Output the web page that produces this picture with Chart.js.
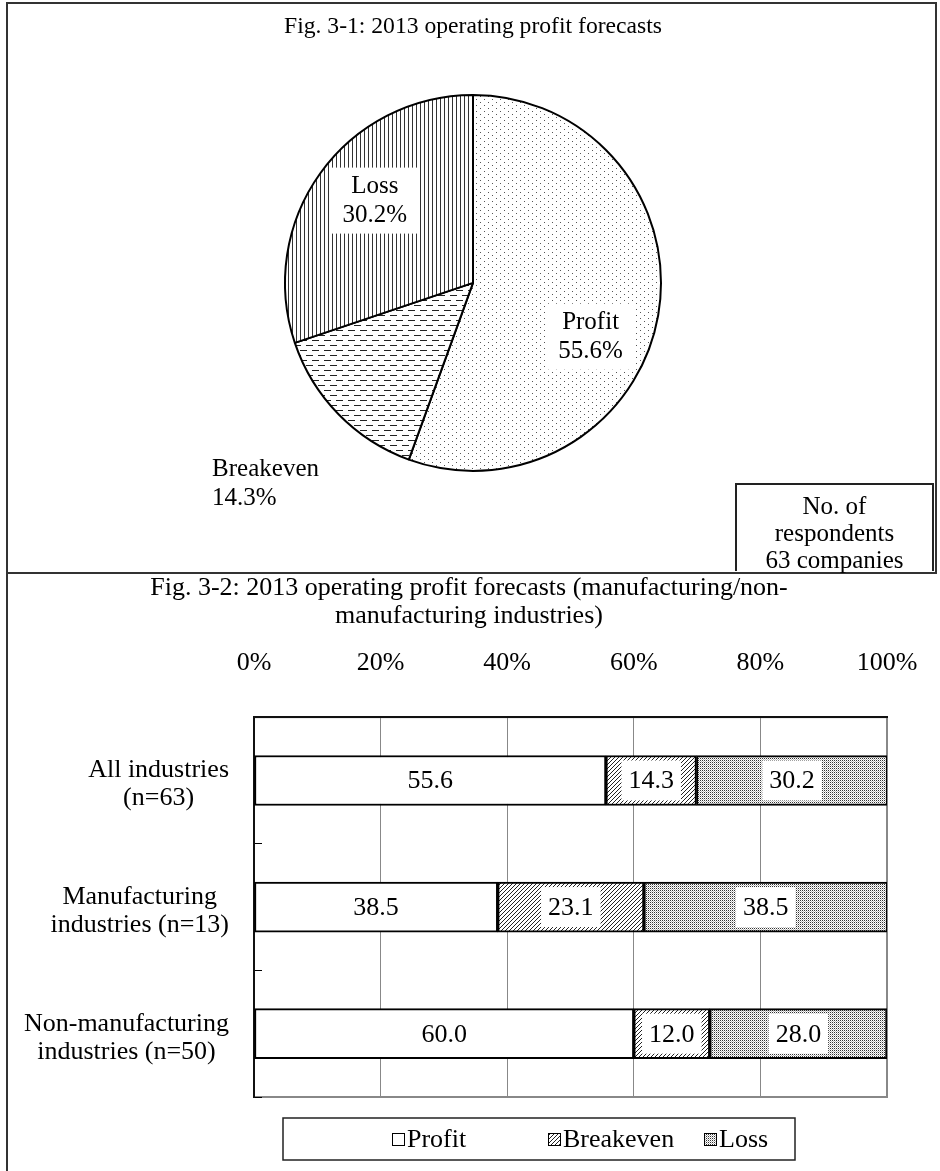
<!DOCTYPE html>
<html>
<head>
<meta charset="utf-8">
<script src="https://cdn.jsdelivr.net/npm/chart.js@4.4.0/dist/chart.umd.min.js"></script>
<style>
  body { margin: 0; background: #fff; width: 940px; height: 1171px; position: relative; overflow: hidden; font-family: 'Liberation Serif', 'Times New Roman', serif; }
  canvas { position: absolute; left: 0; }
  #pieChart { top: 0; }
  #barChart { top: 572px; }
  .line { position: absolute; background: #333; }
  #respBox { position: absolute; left: 735px; top: 483px; width: 199px; height: 88px; border: 2px solid #222; border-bottom: none;
             text-align: center; font-size: 25px; line-height: 27px; padding-top: 7px; box-sizing: border-box; color: #000; }
</style>
</head>
<body>
<canvas id="pieChart" width="940" height="572"></canvas>
<canvas id="barChart" width="940" height="599"></canvas>
<div class="line" style="left:6px;top:2px;width:931px;height:2px"></div>
<div class="line" style="left:6px;top:2px;width:2px;height:1169px"></div>
<div class="line" style="left:935px;top:2px;width:2px;height:571px"></div>
<div class="line" style="left:6px;top:572px;width:931px;height:2px"></div>
<div id="respBox">No. of<br>respondents<br>63 companies</div>
<script>
const serif = "'Liberation Serif', 'Times New Roman', serif";

// pie data
const pieLabels = ['Profit', 'Breakeven', 'Loss'];
const pieValues = [55.6, 14.3, 30.2];

// bar data
const barCategories = [['All industries', '(n=63)'], ['Manufacturing', 'industries (n=13)'], ['Non-manufacturing', 'industries (n=50)']];
const profitValues = [55.6, 38.5, 60.0];
const breakevenValues = [14.3, 23.1, 12.0];
const lossValues = [30.2, 38.5, 28.0];
const xTickValues = [0, 20, 40, 60, 80, 100];

// label placement for pie slices: fraction of radius, pixel nudge, alignment
const pieLabelRadius = [0.7, 1.55, 0.65];
const pieLabelNudge = [[-12, 31], [1, -3], [1, -11]];
const pieLabelAlign = ['center', 'left', 'center'];
const pieLabelBg = [true, false, true];

function makePattern(ctx, w, h, draw) {
    const c = document.createElement('canvas');
    c.width = w; c.height = h;
    const g = c.getContext('2d');
    g.fillStyle = '#fff';
    g.fillRect(0, 0, w, h);
    draw(g);
    return ctx.createPattern(c, 'repeat');
}

const pieCtx = document.getElementById('pieChart').getContext('2d');
const barCtx = document.getElementById('barChart').getContext('2d');

const piePatterns = [
    makePattern(pieCtx, 8, 6, g => { g.fillStyle = '#555'; g.fillRect(0, 0, 1, 1); g.fillRect(4, 3, 1, 1); }),
    makePattern(pieCtx, 12, 10, g => { g.fillStyle = '#222'; g.fillRect(0, 0, 7, 1); g.fillRect(6, 5, 6, 1); g.fillRect(0, 5, 1, 1); }),
    makePattern(pieCtx, 4, 1, g => { g.fillStyle = '#333'; g.fillRect(0, 0, 1, 1); })
];

const hatch = makePattern(barCtx, 4, 4, g => {
    g.fillStyle = '#222';
    g.fillRect(3, 0, 1, 1); g.fillRect(2, 1, 1, 1); g.fillRect(1, 2, 1, 1); g.fillRect(0, 3, 1, 1);
});
const dots = makePattern(barCtx, 2, 2, g => {
    g.fillStyle = '#333'; g.fillRect(0, 0, 1, 1);
    g.fillStyle = '#bbb'; g.fillRect(1, 1, 1, 1);
});

const pieLabelPlugin = {
    id: 'pieLabels',
    afterDatasetsDraw(chart) {
        const ctx = chart.ctx;
        const meta = chart.getDatasetMeta(0);
        const values = chart.data.datasets[0].data;
        ctx.save();
        ctx.font = '25px ' + serif;
        ctx.textBaseline = 'middle';
        meta.data.forEach((arc, i) => {
            const p = arc.getProps(['x', 'y', 'startAngle', 'endAngle', 'outerRadius'], true);
            const mid = (p.startAngle + p.endAngle) / 2;
            const r = p.outerRadius * pieLabelRadius[i];
            let cx = p.x + Math.cos(mid) * r + pieLabelNudge[i][0];
            const cy = p.y + Math.sin(mid) * r + pieLabelNudge[i][1];
            const lines = [chart.data.labels[i], values[i].toFixed(1) + '%'];
            const w = Math.max(...lines.map(t => ctx.measureText(t).width));
            if (pieLabelBg[i]) {
                ctx.fillStyle = '#fff';
                ctx.fillRect(cx - w / 2 - 12, cy - 33, w + 24, 66);
            }
            ctx.textAlign = pieLabelAlign[i];
            if (pieLabelAlign[i] === 'left') cx -= w / 2;
            ctx.fillStyle = '#000';
            ctx.fillText(lines[0], cx, cy - 14);
            ctx.fillText(lines[1], cx, cy + 15);
        });
        ctx.restore();
    }
};

new Chart(pieCtx, {
    type: 'pie',
    data: {
        labels: pieLabels,
        datasets: [{
            data: pieValues,
            backgroundColor: piePatterns,
            borderColor: '#000',
            borderWidth: 2,
        }],
    },
    options: {
        responsive: false,
        animation: false,
        layout: { padding: { left: 284, right: 278, top: 0, bottom: 100 } },
        plugins: {
            legend: { display: false },
            tooltip: { enabled: false },
            title: {
                display: true,
                text: 'Fig. 3-1: 2013 operating profit forecasts',
                color: '#000',
                font: { family: serif, size: 24, weight: 'normal', lineHeight: 1.2 },
                padding: { top: 12, bottom: 53 },
            },
        },
    },
    plugins: [pieLabelPlugin],
});

const barFont = 26;
const barExtras = {
    id: 'barExtras',
    beforeDraw(chart) {
        const { ctx, chartArea: a } = chart;
        ctx.save();
        ctx.strokeStyle = '#888';
        ctx.lineWidth = 2;
        ctx.strokeRect(a.left, a.top, a.right - a.left, a.bottom - a.top);
        ctx.restore();
    },
    afterDatasetsDraw(chart) {
        const ctx = chart.ctx;
        ctx.save();
        ctx.font = barFont + 'px ' + serif;
        ctx.textAlign = 'center';
        ctx.textBaseline = 'middle';
        chart.data.datasets.forEach((ds, di) => {
            chart.getDatasetMeta(di).data.forEach((bar, i) => {
                const p = bar.getProps(['x', 'y', 'base', 'height'], true);
                const cx = (p.x + p.base) / 2;
                const text = ds.data[i].toFixed(1);
                const w = ctx.measureText(text).width;
                ctx.fillStyle = '#fff';
                ctx.fillRect(cx - w / 2 - 7, p.y - p.height / 2 + 5, w + 14, p.height - 10);
                ctx.fillStyle = '#000';
                ctx.fillText(text, cx, p.y + 1);
            });
        });
        ctx.restore();
    },
    afterDraw(chart) {
        const ctx = chart.ctx;
        const yScale = chart.scales.y;
        ctx.save();
        ctx.font = barFont + 'px ' + serif;
        ctx.textAlign = 'center';
        ctx.textBaseline = 'middle';
        ctx.fillStyle = '#000';
        // category labels: lines centred inside a right-aligned block
        chart.data.labels.forEach((lines, i) => {
            const y = yScale.getPixelForTick(i);
            const w = Math.max(...lines.map(t => ctx.measureText(t).width));
            const cx = yScale.right - 25 - w / 2;
            lines.forEach((t, k) => ctx.fillText(t, cx, y + (k - (lines.length - 1) / 2) * 28 + 4));
        });
        // legend
        const a = chart.chartArea;
        const boxTop = a.bottom + 21, boxH = 42;
        ctx.strokeStyle = '#222';
        ctx.lineWidth = 1.5;
        ctx.strokeRect(283, boxTop, 512, boxH);
        const slot = 156;
        ctx.textAlign = 'left';
        chart.data.datasets.forEach((ds, k) => {
            const x = 539 + 9 + (k - 1) * slot;
            const cy = boxTop + boxH / 2;
            ctx.fillStyle = ds.backgroundColor;
            ctx.fillRect(x, cy - 6, 13, 13);
            ctx.strokeStyle = '#000';
            ctx.lineWidth = 1;
            ctx.strokeRect(x + 0.5, cy - 5.5, 12, 12);
            ctx.fillStyle = '#000';
            ctx.fillText(ds.label, x + 15, cy + 1);
        });
        ctx.restore();
    }
};

new Chart(barCtx, {
    type: 'bar',
    data: {
        labels: barCategories,
        datasets: [
            { label: 'Profit', data: profitValues, backgroundColor: '#fff' },
            { label: 'Breakeven', data: breakevenValues, backgroundColor: hatch },
            { label: 'Loss', data: lossValues, backgroundColor: dots },
        ].map(d => Object.assign(d, { borderColor: '#000', borderWidth: 2, borderSkipped: false, barThickness: 50 })),
    },
    options: {
        indexAxis: 'y',
        responsive: false,
        animation: false,
        layout: { padding: { left: 51, right: 53, top: 0, bottom: 74 } },
        plugins: {
            legend: { display: false },
            tooltip: { enabled: false },
            title: {
                display: true,
                text: ['Fig. 3-2: 2013 operating profit forecasts (manufacturing/non-', 'manufacturing industries)'],
                color: '#000',
                font: { family: serif, size: 26, weight: 'normal', lineHeight: 1.08 },
                padding: { top: 2, bottom: 9 },
            },
        },
        scales: {
            x: {
                position: 'top',
                stacked: true,
                min: 0,
                max: 100,
                afterBuildTicks: s => { s.ticks = xTickValues.map(v => ({ value: v })); },
                ticks: { callback: v => v + '%', color: '#000', font: { family: serif, size: barFont }, padding: 38 },
                grid: { color: '#888', lineWidth: 1, drawTicks: false },
                border: { display: true, color: '#111', width: 2 },
                afterFit: s => { s.height = 78; s.paddingLeft = 0; s.paddingRight = 0; },
            },
            y: {
                stacked: true,
                ticks: { display: false },
                grid: { offset: true, drawOnChartArea: false, drawTicks: true, tickLength: -8, color: '#000' },
                border: { display: true, color: '#111', width: 2 },
                afterFit: s => { s.width = 203; },
            },
        },
    },
    plugins: [barExtras],
});
</script>
</body>
</html>
